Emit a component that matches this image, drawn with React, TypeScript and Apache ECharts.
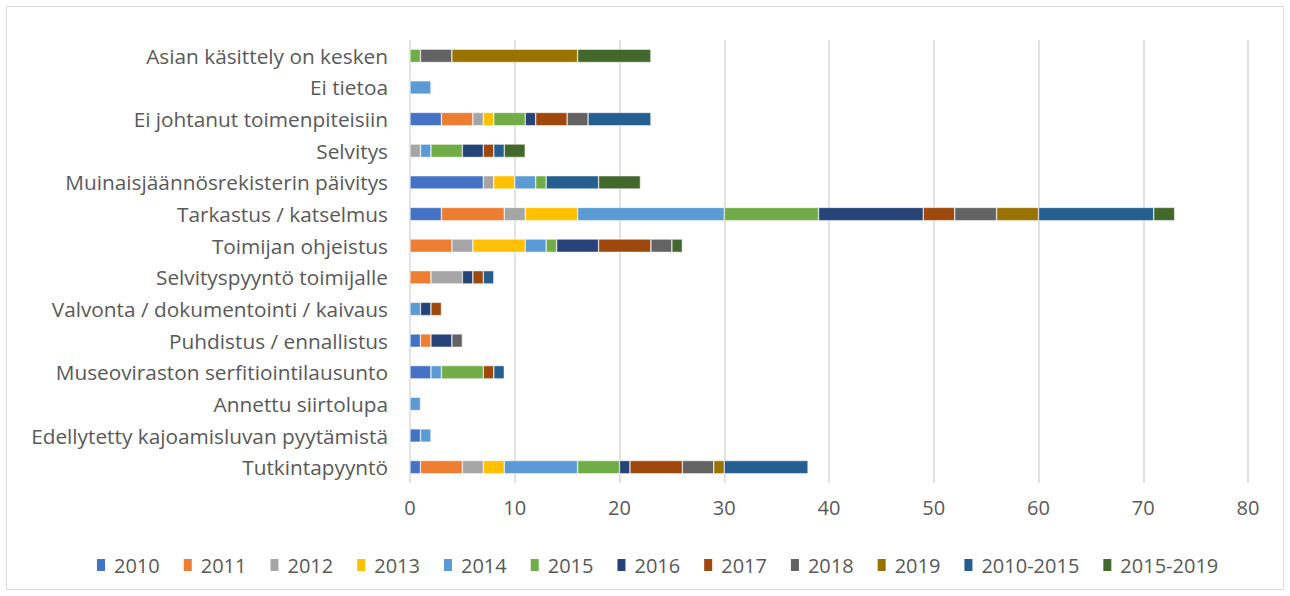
import React, { useEffect, useRef } from "react";
import * as echarts from "echarts";

// categories listed top to bottom as shown
const categories = [
  "Asian käsittely on kesken",
  "Ei tietoa",
  "Ei johtanut toimenpiteisiin",
  "Selvitys",
  "Muinaisjäännösrekisterin päivitys",
  "Tarkastus / katselmus",
  "Toimijan ohjeistus",
  "Selvityspyyntö toimijalle",
  "Valvonta / dokumentointi / kaivaus",
  "Puhdistus / ennallistus",
  "Museoviraston serfitiointilausunto",
  "Annettu siirtolupa",
  "Edellytetty kajoamisluvan pyytämistä",
  "Tutkintapyyntö",
];

const seriesNames = ["2010", "2011", "2012", "2013", "2014", "2015", "2016", "2017", "2018", "2019", "2010-2015", "2015-2019"];
const colors = ["#4472C4", "#ED7D31", "#A5A5A5", "#FFC000", "#5B9BD5", "#70AD47", "#264478", "#9E480E", "#636363", "#997300", "#255E91", "#43682B"];

const v2010 = [0, 0, 3, 0, 7, 3, 0, 0, 0, 1, 2, 0, 1, 1];
const v2011 = [0, 0, 3, 0, 0, 6, 4, 2, 0, 1, 0, 0, 0, 4];
const v2012 = [0, 0, 1, 1, 1, 2, 2, 3, 0, 0, 0, 0, 0, 2];
const v2013 = [0, 0, 1, 0, 2, 5, 5, 0, 0, 0, 0, 0, 0, 2];
const v2014 = [0, 2, 0, 1, 2, 14, 2, 0, 1, 0, 1, 1, 1, 7];
const v2015 = [1, 0, 3, 3, 1, 9, 1, 0, 0, 0, 4, 0, 0, 4];
const v2016 = [0, 0, 1, 2, 0, 10, 4, 1, 1, 2, 0, 0, 0, 1];
const v2017 = [0, 0, 3, 1, 0, 3, 5, 1, 1, 0, 1, 0, 0, 5];
const v2018 = [3, 0, 2, 0, 0, 4, 2, 0, 0, 1, 0, 0, 0, 3];
const v2019 = [12, 0, 0, 0, 0, 4, 0, 0, 0, 0, 0, 0, 0, 1];
const v2010_2015 = [0, 0, 6, 1, 5, 11, 0, 1, 0, 0, 1, 0, 0, 8];
const v2015_2019 = [7, 0, 0, 2, 4, 2, 1, 0, 0, 0, 0, 0, 0, 0];

const seriesValues = [v2010, v2011, v2012, v2013, v2014, v2015, v2016, v2017, v2018, v2019, v2010_2015, v2015_2019];

const xTicks = { min: 0, max: 80, interval: 10 };

export default function App() {
  const ref = useRef<HTMLDivElement>(null);
  useEffect(() => {
    if (!ref.current) return;
    const chart = echarts.init(ref.current, undefined, { renderer: "svg" });
    const font = "'Open Sans', sans-serif";
    chart.setOption({
      animation: false,
      backgroundColor: "#ffffff",
      textStyle: { fontFamily: font },
      graphic: [
        {
          type: "rect",
          shape: { x: 6.5, y: 6.5, width: 1277, height: 583 },
          style: { fill: "none", stroke: "#D9D9D9", lineWidth: 1 },
          silent: true,
        },
      ],
      grid: { left: 410, right: 42, top: 40, bottom: 113, containLabel: false },
      xAxis: {
        type: "value",
        min: xTicks.min,
        max: xTicks.max,
        interval: xTicks.interval,
        axisLine: { show: false },
        axisTick: { show: false },
        splitLine: { show: true, lineStyle: { color: "#D9D9D9", width: 1.5 } },
        axisLabel: { color: "#595959", fontSize: 20, fontFamily: font, margin: 14 },
      },
      yAxis: {
        type: "category",
        data: categories,
        inverse: true,
        axisLine: { show: false },
        axisTick: { show: false },
        axisLabel: { color: "#595959", fontSize: 20.8, fontFamily: font, margin: 22 },
      },
      legend: {
        top: 550,
        left: 90,
        itemWidth: 10,
        itemHeight: 14,
        itemGap: 22,
        icon: "rect",
        textStyle: { color: "#595959", fontSize: 20, fontFamily: font, padding: [0, 0, 0, 3] },
        data: seriesNames,
      },
      series: seriesNames.map((name, i) => ({
        name,
        type: "bar",
        stack: "total",
        barWidth: "42%",
        itemStyle: { color: colors[i], borderColor: "#ffffff", borderWidth: 0.5 },
        data: seriesValues[i].map((v) => (v === 0 ? null : v)),
      })),
    });
    return () => chart.dispose();
  }, []);
  return (
    <div
      ref={ref}
      style={{ position: "absolute", left: 0, top: 0, width: 1290, height: 596 }}
    />
  );
}
